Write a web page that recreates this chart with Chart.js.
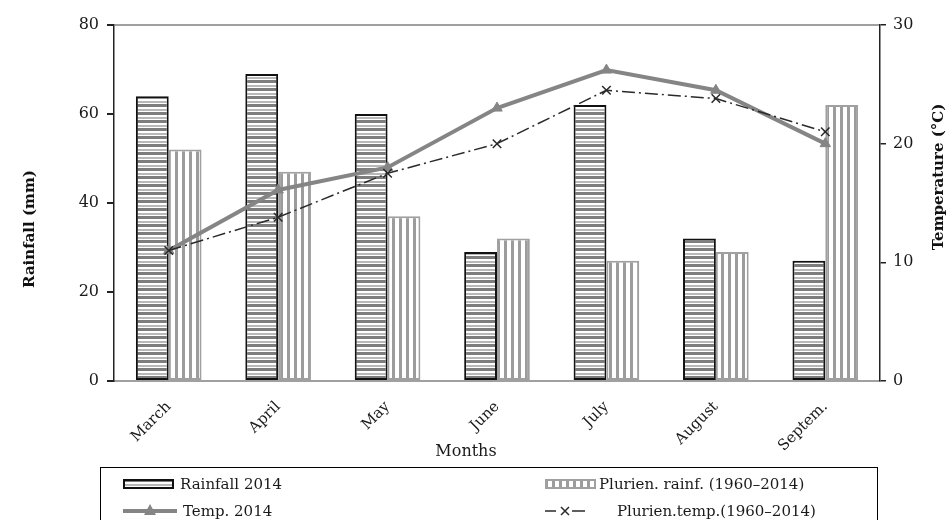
<!DOCTYPE html>
<html>
<head>
<meta charset="utf-8">
<script src="https://cdn.jsdelivr.net/npm/chart.js@4.4.0/dist/chart.umd.min.js"></script>
<style>
  html, body { margin: 0; padding: 0; background: #fff; }
  #wrap { position: relative; width: 949px; height: 520px; overflow: hidden; }
  #chart { position: absolute; left: 0; top: 0; }
  #legend {
    position: absolute; left: 100px; top: 467px; width: 778px; height: 80px;
    border: 1px solid #000; box-sizing: border-box;
    font-family: "DejaVu Serif", serif; font-size: 15px; color: #1a1a1a;
  }
  .item { position: absolute; display: flex; align-items: center; white-space: nowrap; }
  .item canvas { display: block; }
</style>
</head>
<body>
<div id="wrap">
  <canvas id="chart" width="949" height="520"></canvas>
  <div id="legend"></div>
</div>
<script>
// Monthly rainfall (mm) and mean temperature (°C)
const months = ['March', 'April', 'May', 'June', 'July', 'August', 'Septem.'];
const rainfall2014 = [64, 69, 60, 29, 62, 32, 27];
const rainfallPlurien = [52, 47, 37, 32, 27, 29, 62];
const temp2014 = [11.0, 16.1, 18.0, 23.0, 26.2, 24.5, 20.0];
const tempPlurien = [11.0, 13.8, 17.5, 20.0, 24.5, 23.8, 21.0];
const rainTicks = [0, 20, 40, 60, 80];
const tempTicks = [0, 10, 20, 30];

const FONT = '"DejaVu Serif", serif';

// Horizontal-stripe fill for the 2014 rainfall bars
function horizontalStripes(ctx) {
  const c = document.createElement('canvas');
  c.width = 8; c.height = 8;
  const g = c.getContext('2d');
  g.fillStyle = '#ffffff'; g.fillRect(0, 0, 8, 8);
  g.fillStyle = '#7d7d7d'; g.fillRect(0, 0, 8, 3);
  g.fillStyle = '#b8b8b8'; g.fillRect(0, 5, 8, 2);
  return ctx.createPattern(c, 'repeat');
}

// Vertical-stripe fill for the long-term rainfall bars
function verticalStripes(ctx) {
  const c = document.createElement('canvas');
  c.width = 7; c.height = 4;
  const g = c.getContext('2d');
  g.fillStyle = '#ffffff'; g.fillRect(0, 0, 7, 4);
  g.fillStyle = '#9c9c9c'; g.fillRect(0, 0, 3, 4);
  return ctx.createPattern(c, 'repeat');
}

const canvas = document.getElementById('chart');
const mainCtx = canvas.getContext('2d');

// Axis titles drawn in place (the right-hand title reads bottom-to-top)
const axisTitles = {
  id: 'axisTitles',
  afterDraw(chart) {
    const { ctx, chartArea, scales } = chart;
    const midY = (chartArea.top + chartArea.bottom) / 2;
    ctx.save();
    ctx.fillStyle = '#111';
    ctx.textAlign = 'center';
    ctx.textBaseline = 'middle';

    ctx.font = 'bold 15px ' + FONT;
    ctx.save();
    ctx.translate(scales.y.left + 30, midY + 26);
    ctx.rotate(-Math.PI / 2);
    ctx.fillText('Rainfall (mm)', 0, 0);
    ctx.restore();

    ctx.save();
    ctx.translate(scales.yT.right - 10, midY - 26);
    ctx.rotate(-Math.PI / 2);
    ctx.fillText('Temperature (°C)', 0, 0);
    ctx.restore();

    ctx.font = '16px ' + FONT;
    ctx.fillStyle = '#1a1a1a';
    ctx.fillText('Months', (chartArea.left + chartArea.right) / 2 - 31, chartArea.bottom + 71);
    ctx.restore();
  }
};

const chart = new Chart(canvas, {
  type: 'bar',
  data: {
    labels: months,
    datasets: [
      {
        label: 'Rainfall 2014',
        data: rainfall2014,
        yAxisID: 'y',
        backgroundColor: horizontalStripes(mainCtx),
        borderColor: '#111111',
        borderWidth: 2,
        borderSkipped: false,
        categoryPercentage: 0.6,
        barPercentage: 1,
        order: 2
      },
      {
        label: 'Plurien. rainf. (1960–2014)',
        data: rainfallPlurien,
        yAxisID: 'y',
        backgroundColor: verticalStripes(mainCtx),
        borderColor: '#a0a0a0',
        borderWidth: 2,
        borderSkipped: false,
        categoryPercentage: 0.6,
        barPercentage: 1,
        order: 3
      },
      {
        type: 'line',
        label: 'Temp. 2014',
        data: temp2014,
        yAxisID: 'yT',
        borderColor: '#858585',
        borderWidth: 4,
        pointStyle: 'triangle',
        pointRadius: 6,
        pointBackgroundColor: '#858585',
        pointBorderColor: '#858585',
        pointBorderWidth: 1,
        tension: 0,
        order: 1
      },
      {
        type: 'line',
        label: 'Plurien.temp.(1960–2014)',
        data: tempPlurien,
        yAxisID: 'yT',
        borderColor: '#2a2a2a',
        borderWidth: 1.5,
        borderDash: [13, 4, 2, 4],
        pointStyle: 'crossRot',
        pointRadius: 6,
        pointBorderColor: '#2a2a2a',
        pointBorderWidth: 1.5,
        tension: 0,
        order: 0
      }
    ]
  },
  options: {
    responsive: false,
    animation: false,
    layout: { padding: { top: 25, bottom: 55, left: 0, right: 0 } },
    plugins: { legend: { display: false }, tooltip: { enabled: false } },
    scales: {
      x: {
        offset: true,
        afterFit: s => { s.height = 84; },
        grid: { display: false, drawTicks: false },
        border: { display: true, color: '#a0a0a0', width: 2 },
        ticks: {
          minRotation: 45, maxRotation: 45, padding: 17,
          color: '#1a1a1a', font: { family: FONT, size: 15 }
        }
      },
      y: {
        position: 'left',
        min: 0, max: 80,
        afterFit: s => { s.width = 114; },
        afterBuildTicks: s => { s.ticks = rainTicks.map(v => ({ value: v })); },
        grid: {
          drawOnChartArea: true,
          color: c => (c.tick && c.tick.value === 80 ? '#a0a0a0' : 'rgba(0,0,0,0)'),
          tickColor: '#222',
          tickLength: 7,
          lineWidth: 2
        },
        border: { color: '#222', width: 1.5 },
        ticks: { padding: 8, color: '#1a1a1a', font: { family: FONT, size: 16 } }
      },
      yT: {
        position: 'right',
        min: 0, max: 30,
        afterFit: s => { s.width = 69; },
        afterBuildTicks: s => { s.ticks = tempTicks.map(v => ({ value: v })); },
        grid: { drawOnChartArea: false, tickColor: '#222', tickLength: 6, lineWidth: 1.5 },
        border: { color: '#222', width: 1.5 },
        ticks: { padding: 7, color: '#1a1a1a', font: { family: FONT, size: 16 } }
      }
    }
  },
  plugins: [axisTitles]
});

// Legend built from the dataset styles
function swatch(ds, w, h) {
  const c = document.createElement('canvas');
  c.width = w; c.height = h;
  const g = c.getContext('2d');
  const my = h / 2;
  if (ds.type === 'line' && ds.pointStyle === 'triangle') {
    g.strokeStyle = ds.borderColor;
    g.lineWidth = ds.borderWidth;
    g.beginPath(); g.moveTo(0, my); g.lineTo(w, my); g.stroke();
    g.fillStyle = ds.pointBackgroundColor;
    g.beginPath();
    g.moveTo(w / 2, my - 7); g.lineTo(w / 2 + 6, my + 4); g.lineTo(w / 2 - 6, my + 4); g.closePath();
    g.fill();
  } else if (ds.type === 'line') {
    g.strokeStyle = ds.borderColor;
    g.lineWidth = ds.borderWidth;
    g.beginPath(); g.moveTo(0, my); g.lineTo(11, my); g.stroke();
    g.beginPath(); g.moveTo(27, my); g.lineTo(40, my); g.stroke();
    const cx = 20, r = 4;
    g.beginPath();
    g.moveTo(cx - r, my - r); g.lineTo(cx + r, my + r);
    g.moveTo(cx + r, my - r); g.lineTo(cx - r, my + r);
    g.stroke();
  } else {
    g.fillStyle = ds.label === 'Rainfall 2014' ? horizontalStripes(g) : verticalStripes(g);
    g.fillRect(0, 0, w, h);
    g.strokeStyle = ds.borderColor;
    g.lineWidth = 2;
    g.strokeRect(1, 1, w - 2, h - 2);
  }
  return c;
}

const legend = document.getElementById('legend');
const placements = [
  { i: 0, left: 22, top: 16, w: 51, h: 10, textLeft: 79 },
  { i: 1, left: 444, top: 16, w: 51, h: 10, textLeft: 498 },
  { i: 2, left: 22, top: 43, w: 54, h: 14, textLeft: 82 },
  { i: 3, left: 444, top: 43, w: 40, h: 14, textLeft: 516 }
];
placements.forEach(p => {
  const ds = chart.data.datasets[p.i];
  const el = document.createElement('div');
  el.className = 'item';
  el.style.left = p.left + 'px';
  el.style.top = (p.top - 9) + 'px';
  el.style.height = '18px';
  const sw = swatch(ds, p.w, p.h);
  sw.style.marginRight = (p.textLeft - p.left - p.w) + 'px';
  el.appendChild(sw);
  const t = document.createElement('span');
  t.textContent = ds.label;
  el.appendChild(t);
  legend.appendChild(el);
});
</script>
</body>
</html>
